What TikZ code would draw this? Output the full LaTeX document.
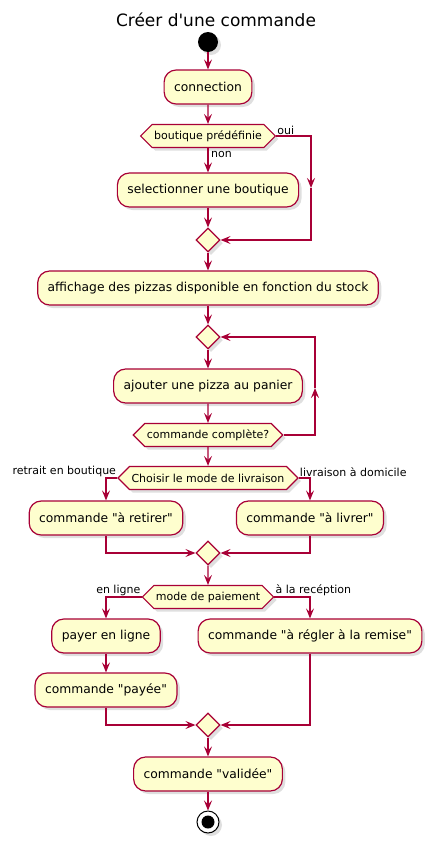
\documentclass[tikz,border=0pt]{standalone}
\usepackage{fontspec}
\setmainfont{DejaVu Sans}[Ligatures=TeXOff]
\usetikzlibrary{arrows.meta,shapes.geometric,shapes.symbols,shadows}

\definecolor{umlfill}{HTML}{FEFECE}
\definecolor{umlline}{HTML}{A80036}

\begin{document}
\begin{tikzpicture}[x=1pt, y=-1pt]
    \useasboundingbox (0,0) rectangle (432,841);
    \tikzset{
      ShadowStyle/.style = {drop shadow={shadow xshift=3pt, shadow yshift=-3pt, opacity=0.25}},
      ActStyle/.style = {draw=umlline, fill=umlfill, line width=1.2pt, rounded corners=12pt,
        minimum height=34pt, inner xsep=10pt, font=\fontsize{12.3}{14}\selectfont, ShadowStyle},
      IfStyle/.style = {signal, signal to=west and east, signal pointer angle=90,
        draw=umlline, fill=umlfill, line width=1.2pt, minimum height=23pt, inner xsep=2pt,
        font=\fontsize{11}{13}\selectfont, ShadowStyle},
      MergeStyle/.style = {diamond, draw=umlline, fill=umlfill, line width=1.2pt,
        minimum size=24pt, inner sep=0pt, ShadowStyle},
      EdgeStyle/.style = {draw=umlline, line width=1.2pt, -{Stealth[length=10pt, width=8pt, inset=4pt]}},
      LabelStyle/.style = {font=\fontsize{11}{13}\selectfont, inner sep=1pt}
    }

    % Title
    \node[font=\fontsize{17}{20}\selectfont] (titre) at (216,20) {Créer d'une commande};

    % Vertices
    \node[circle, fill=black, minimum size=20pt, inner sep=0pt, ShadowStyle] (debut) at (208,42) {};
    \node[ActStyle] (conn) at (208,87) {connection};
    \node[IfStyle] (bout) at (208,136) {boutique prédéfinie};
    \node[ActStyle] (sel) at (208,190) {selectionner une boutique};
    \node[MergeStyle] (m1) at (208,240) {};
    \node[ActStyle] (aff) at (208,288) {affichage des pizzas disponible en fonction du stock};
    \node[MergeStyle] (boucle) at (208,337) {};
    \node[ActStyle] (ajout) at (208,386) {ajouter une pizza au panier};
    \node[IfStyle] (compl) at (208,435) {commande complète?};
    \node[IfStyle] (livr) at (208,478) {Choisir le mode de livraison};
    \node[ActStyle] (retirer) at (106,518) {commande "à retirer"};
    \node[ActStyle] (livrer) at (310,518) {commande "à livrer"};
    \node[MergeStyle] (m2) at (208,553) {};
    \node[IfStyle] (paie) at (208,597) {mode de paiement};
    \node[ActStyle] (payer) at (106,636) {payer en ligne};
    \node[ActStyle] (payee) at (106,690) {commande "payée"};
    \node[ActStyle] (regler) at (310,636) {commande "à régler à la remise"};
    \node[MergeStyle] (m3) at (208,725) {};
    \node[ActStyle] (valid) at (208,774) {commande "validée"};
    \node[circle, draw=black, line width=1pt, fill=white, minimum size=22pt, inner sep=0pt, ShadowStyle] (fin) at (208,822) {};
    \node[circle, fill=black, minimum size=13pt, inner sep=0pt] (finc) at (fin) {};

    % Coordinates
    \coordinate (ouiC) at (311,188);
    \coordinate (boucleC) at (315,388);

    % Labels
    \node[LabelStyle, anchor=south west] (oui) at (bout.east) {oui};
    \node[LabelStyle, anchor=north west, xshift=2pt, yshift=-2pt] (non) at (bout.south) {non};
    \node[LabelStyle, anchor=south east] (retrait) at (livr.west) {retrait en boutique};
    \node[LabelStyle, anchor=south west] (domicile) at (livr.east) {livraison à domicile};
    \node[LabelStyle, anchor=south east] (enligne) at (paie.west) {en ligne};
    \node[LabelStyle, anchor=south west] (reception) at (paie.east) {à la recéption};

    % Edges
    \draw[EdgeStyle] (debut) -- (conn);
    \draw[EdgeStyle] (conn) -- (bout);
    \draw[EdgeStyle] (bout.south) -- (sel);
    \draw[EdgeStyle] (sel) -- (m1);
    \draw[EdgeStyle] (bout.east) -| (ouiC);
    \draw[EdgeStyle] (ouiC) |- (m1.east);
    \draw[EdgeStyle] (m1) -- (aff);
    \draw[EdgeStyle] (aff) -- (boucle);
    \draw[EdgeStyle] (boucle) -- (ajout);
    \draw[EdgeStyle] (ajout) -- (compl);
    \draw[EdgeStyle] (compl.east) -| (boucleC);
    \draw[EdgeStyle] (boucleC) |- (boucle.east);
    \draw[EdgeStyle] (compl) -- (livr);
    \draw[EdgeStyle] (livr.west) -| (retirer.north);
    \draw[EdgeStyle] (livr.east) -| (livrer.north);
    \draw[EdgeStyle] (retirer.south) |- (m2.west);
    \draw[EdgeStyle] (livrer.south) |- (m2.east);
    \draw[EdgeStyle] (m2) -- (paie);
    \draw[EdgeStyle] (paie.west) -| (payer.north);
    \draw[EdgeStyle] (paie.east) -| (regler.north);
    \draw[EdgeStyle] (payer) -- (payee);
    \draw[EdgeStyle] (payee.south) |- (m3.west);
    \draw[EdgeStyle] (regler.south) |- (m3.east);
    \draw[EdgeStyle] (m3) -- (valid);
    \draw[EdgeStyle] (valid) -- (fin);
\end{tikzpicture}
\end{document}
